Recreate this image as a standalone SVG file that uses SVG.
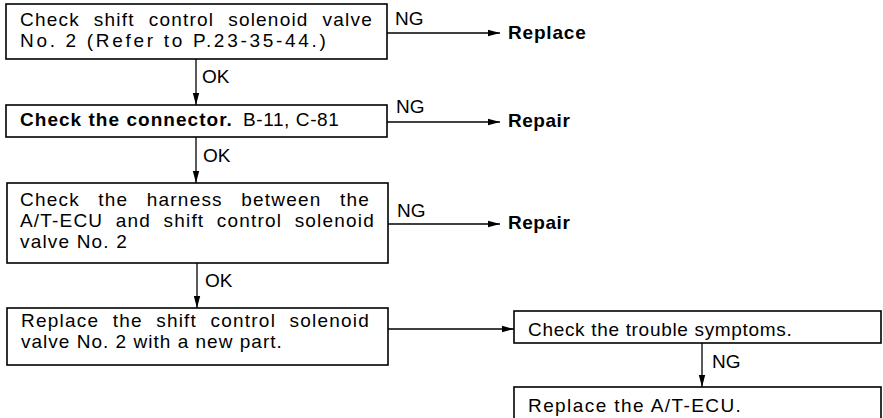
<svg xmlns="http://www.w3.org/2000/svg" width="883" height="418" viewBox="0 0 883 418">
<defs>
<style>
.box{fill:#fff;stroke:#000;stroke-width:1.6}
.t{font-family:"Liberation Sans",Arial,Helvetica,sans-serif;font-size:19px;fill:#000;letter-spacing:1.2px}
.l{font-family:"Liberation Sans",Arial,Helvetica,sans-serif;font-size:19px;fill:#000}
.b{font-family:"Liberation Sans",Arial,Helvetica,sans-serif;font-size:19px;font-weight:bold;fill:#000;letter-spacing:1.2px}
.c{fill:none;stroke:#000;stroke-width:1.3}
</style>
<marker id="ah" viewBox="0 0 12 8" refX="12" refY="4" markerWidth="12" markerHeight="8" markerUnits="userSpaceOnUse" orient="auto">
<path d="M0,0.8 L12,4 L0,7.2 Z" fill="#000"/>
</marker>
</defs>
<rect width="883" height="418" fill="#fff"/>
<g id="connectors">
<line class="c" x1="387" y1="33" x2="500" y2="33" marker-end="url(#ah)"/>
<line class="c" x1="387" y1="122" x2="500" y2="122" marker-end="url(#ah)"/>
<line class="c" x1="388" y1="224" x2="500" y2="224" marker-end="url(#ah)"/>
<line class="c" x1="388" y1="329" x2="514" y2="329" marker-end="url(#ah)"/>
<line class="c" x1="196" y1="59" x2="196" y2="105" marker-end="url(#ah)"/>
<line class="c" x1="196" y1="137" x2="196" y2="183" marker-end="url(#ah)"/>
<line class="c" x1="197" y1="263" x2="197" y2="308" marker-end="url(#ah)"/>
<line class="c" x1="702" y1="343" x2="702" y2="387" marker-end="url(#ah)"/>
<text class="l" x="395" y="25">NG</text>
<text class="l" x="396" y="113">NG</text>
<text class="l" x="397" y="217">NG</text>
<text class="l" x="712" y="368">NG</text>
<text class="l" x="202" y="83">OK</text>
<text class="l" x="203" y="162">OK</text>
<text class="l" x="205" y="287">OK</text>
</g>
<g id="n1">
<rect class="box" x="6" y="4" width="381" height="55"/>
<text class="t" x="20" y="25.5" word-spacing="7.5" textLength="353" lengthAdjust="spacing">Check shift control solenoid valve</text>
<text class="t" x="20" y="46.5" textLength="307" lengthAdjust="spacing">No. 2 (Refer to P.23-35-44.)</text>
</g>
<g id="n2">
<rect class="box" x="6" y="105" width="381" height="32"/>
<text class="b" x="20" y="126" textLength="213" lengthAdjust="spacing">Check the connector.</text>
<text class="t" x="243" y="126" textLength="97" lengthAdjust="spacing">B-11, C-81</text>
</g>
<g id="n3">
<rect class="box" x="7" y="183" width="381" height="80"/>
<text class="t" x="20" y="206" word-spacing="12" textLength="350" lengthAdjust="spacing">Check the harness between the</text>
<text class="t" x="20" y="227" word-spacing="6" textLength="355" lengthAdjust="spacing">A/T-ECU and shift control solenoid</text>
<text class="t" x="20" y="248" textLength="108" lengthAdjust="spacing">valve No. 2</text>
</g>
<g id="n4">
<rect class="box" x="7" y="308" width="381" height="57"/>
<text class="t" x="21" y="327" word-spacing="7" textLength="349" lengthAdjust="spacing">Replace the shift control solenoid</text>
<text class="t" x="21" y="348" textLength="262" lengthAdjust="spacing">valve No. 2 with a new part.</text>
</g>
<g id="n5">
<text class="b" x="508" y="39" textLength="79" lengthAdjust="spacing">Replace</text>
</g>
<g id="n6">
<text class="b" x="508" y="127" textLength="63" lengthAdjust="spacing">Repair</text>
</g>
<g id="n7">
<text class="b" x="508" y="229" textLength="63" lengthAdjust="spacing">Repair</text>
</g>
<g id="n8">
<rect class="box" x="514" y="311" width="367" height="32"/>
<text class="t" x="528" y="336" textLength="265" lengthAdjust="spacing">Check the trouble symptoms.</text>
</g>
<g id="n9">
<rect class="box" x="514" y="387" width="367" height="45"/>
<text class="t" x="528" y="412" textLength="214" lengthAdjust="spacing">Replace the A/T-ECU.</text>
</g>
</svg>
